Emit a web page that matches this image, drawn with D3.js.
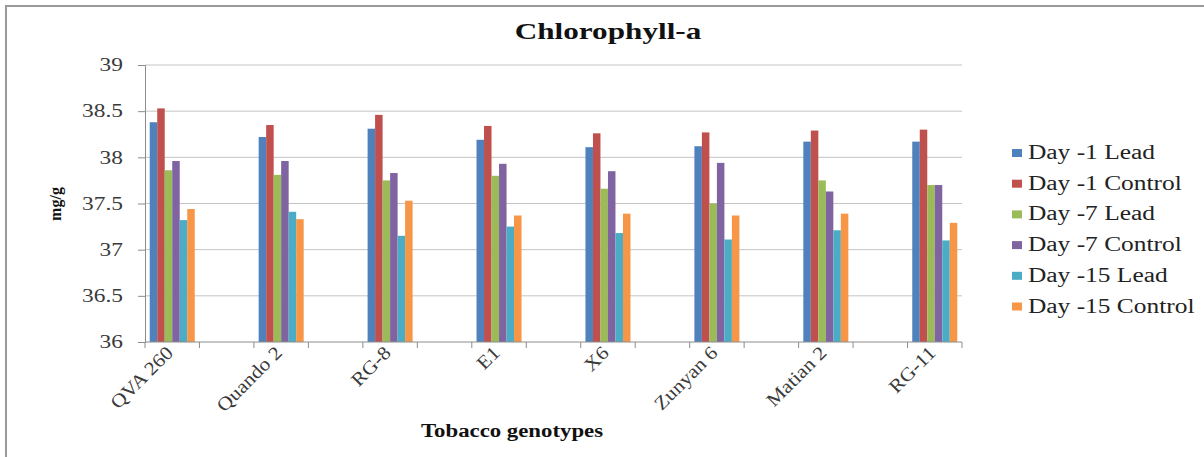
<!DOCTYPE html>
<html>
<head>
<meta charset="utf-8">
<script src="https://cdn.jsdelivr.net/npm/d3@7/dist/d3.min.js"></script>
<style>
  html, body { margin: 0; padding: 0; background: #fff; }
  svg { display: block; }
  svg text { font-family: "Liberation Serif", "Times New Roman", serif !important; }
</style>
</head>
<body>
<svg id="chart" width="1204" height="457"></svg>
<script>
// Tobacco genotypes on the x axis
const genotypes = ["QVA 260", "Quando 2", "RG-8", "E1", "X6", "Zunyan 6", "Matian 2", "RG-11"];

// Series (legend order)
const seriesNames = ["Day -1 Lead", "Day -1 Control", "Day -7 Lead", "Day -7 Control", "Day -15 Lead", "Day -15 Control"];
const seriesColors = ["#4F81BD", "#C0504D", "#9BBB59", "#8064A2", "#4BACC6", "#F79646"];

// Chlorophyll-a (mg/g), one array per series, in genotype order
const day1Lead     = [38.38, 38.22, 38.31, 38.19, 38.11, 38.12, 38.17, 38.17];
const day1Control  = [38.53, 38.35, 38.46, 38.34, 38.26, 38.27, 38.29, 38.30];
const day7Lead     = [37.86, 37.81, 37.75, 37.80, 37.66, 37.50, 37.75, 37.70];
const day7Control  = [37.96, 37.96, 37.83, 37.93, 37.85, 37.94, 37.63, 37.70];
const day15Lead    = [37.32, 37.41, 37.15, 37.25, 37.18, 37.11, 37.21, 37.10];
const day15Control = [37.44, 37.33, 37.53, 37.37, 37.39, 37.37, 37.39, 37.29];
const seriesValues = [day1Lead, day1Control, day7Lead, day7Control, day15Lead, day15Control];

// Y axis ticks
const yTicks = [36, 36.5, 37, 37.5, 38, 38.5, 39];

const svg = d3.select("#chart");
const SERIF = "'Liberation Serif', 'Times New Roman', serif";

// Outer frame
svg.append("path")
  .attr("d", "M6,457 L6,6 L1204,6")
  .attr("fill", "none").attr("stroke", "#9a9a9a").attr("stroke-width", 2);

const plot = { left: 145, right: 962, top: 65, bottom: 342 };

const y = d3.scaleLinear().domain([36, 39]).range([plot.bottom, plot.top]);

// Genotypes sit in every other slot, with an empty slot between neighbours
const slotCount = genotypes.length * 2 - 1;
const slot = d3.scaleBand().domain(d3.range(slotCount)).range([plot.left, plot.right]).padding(0);
const xGroup = d3.scaleOrdinal().domain(genotypes).range(genotypes.map((_, i) => slot(i * 2)));
const xBar = d3.scaleBand().domain(seriesNames).range([0, slot.bandwidth()])
  .paddingInner(0).paddingOuter(0.63);

// Gridlines
svg.append("g")
  .selectAll("line").data(yTicks.filter(t => t > 36)).join("line")
  .attr("x1", plot.left).attr("x2", plot.right)
  .attr("y1", d => y(d)).attr("y2", d => y(d))
  .attr("stroke", "#c4c4c4").attr("stroke-width", 1);

// Y axis
const yAxis = svg.append("g")
  .attr("transform", `translate(${plot.left},0)`)
  .call(d3.axisLeft(y).tickValues(yTicks).tickSize(7).tickPadding(16).tickFormat(d3.format("")))
  .attr("font-family", SERIF);
yAxis.select(".domain").attr("stroke", "#8c8c8c");
yAxis.selectAll(".tick line").attr("stroke", "#8c8c8c");
yAxis.selectAll(".tick text")
  .attr("fill", "#3a3a3a").attr("font-size", 18)
  .style("font-family", SERIF)
  .each(function () {
    const t = d3.select(this);
    const x = +t.attr("x");
    t.attr("x", null).attr("transform", `translate(${x + 1},0) scale(1.3,1)`);
  });

// Bars
const groups = svg.append("g").selectAll("g").data(genotypes).join("g")
  .attr("transform", d => `translate(${xGroup(d)},0)`);
groups.selectAll("rect")
  .data((g, gi) => seriesNames.map((s, si) => ({ s, si, v: seriesValues[si][gi] })))
  .join("rect")
  .attr("x", d => xBar(d.s))
  .attr("width", xBar.bandwidth())
  .attr("y", d => y(d.v))
  .attr("height", d => y(36) - y(d.v))
  .attr("fill", d => seriesColors[d.si]);

// X axis line and slot ticks
const xAxisG = svg.append("g");
xAxisG.append("line")
  .attr("x1", plot.left).attr("x2", plot.right)
  .attr("y1", plot.bottom).attr("y2", plot.bottom)
  .attr("stroke", "#8c8c8c");
const boundaries = d3.range(slotCount + 1).map(i => i < slotCount ? slot(i) : plot.right);
xAxisG.selectAll("line.tk").data(boundaries).join("line").attr("class", "tk")
  .attr("x1", d => d).attr("x2", d => d)
  .attr("y1", plot.bottom).attr("y2", plot.bottom + 6)
  .attr("stroke", "#8c8c8c");

// Category labels, slanted
svg.append("g").selectAll("text").data(genotypes).join("text")
  .attr("transform", d => `translate(${xGroup(d) + slot.bandwidth() / 2 + 2},${plot.bottom + 12}) rotate(-45) scale(1.12,1)`)
  .attr("text-anchor", "end")
  .attr("fill", "#3a3a3a")
  .attr("font-size", 19)
  .style("font-family", SERIF)
  .text(d => d);

// Title
svg.append("text")
  .attr("transform", `translate(608,39) scale(1.3,1)`)
  .attr("text-anchor", "middle")
  .attr("font-size", 24).attr("font-weight", "bold").attr("fill", "#111")
  .style("font-family", SERIF)
  .text("Chlorophyll-a");

// Axis titles
svg.append("text")
  .attr("transform", `translate(512,437) scale(1.2,1)`)
  .attr("text-anchor", "middle")
  .attr("font-size", 19).attr("font-weight", "bold").attr("fill", "#111")
  .style("font-family", SERIF)
  .text("Tobacco genotypes");

svg.append("text")
  .attr("transform", `translate(61,204) rotate(-90)`)
  .attr("text-anchor", "middle")
  .attr("font-size", 16).attr("font-weight", "bold").attr("fill", "#111")
  .style("font-family", SERIF)
  .text("mg/g");

// Legend
const legend = svg.append("g").attr("transform", "translate(1012,153)");
const items = legend.selectAll("g").data(seriesNames).join("g")
  .attr("transform", (d, i) => `translate(0,${i * 30.7})`);
items.append("rect")
  .attr("x", 0).attr("y", -4).attr("width", 10).attr("height", 8)
  .attr("fill", (d, i) => seriesColors[i]);
items.append("text")
  .attr("transform", `translate(16,6) scale(1.27,1)`)
  .attr("font-size", 20).attr("fill", "#222")
  .style("font-family", SERIF)
  .text(d => d);
</script>
</body>
</html>
